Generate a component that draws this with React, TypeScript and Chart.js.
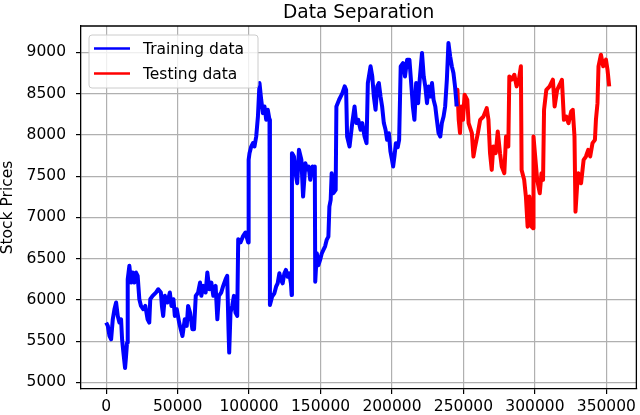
import React, { useEffect, useRef } from "react";
import { Chart, registerables } from "chart.js";

Chart.register(...registerables);

const TITLE = "Data Separation";
const Y_LABEL = "Stock Prices";
const legendLabels = ["Training data", "Testing data"];
const seriesColors = ["#0000ff", "#ff0000"];

const xTicks = [0, 50000, 100000, 150000, 200000, 250000, 300000, 350000];
const yTicks = [5000, 5500, 6000, 6500, 7000, 7500, 8000, 8500, 9000];

const trainX = [
  0, 1160, 2320, 3480, 4640, 5800, 6960, 8120, 9280, 10440,
  11140, 12070, 13230, 13930, 14620, 15090, 16250, 17400, 18570, 19730,
  20890, 22050, 23210, 24370, 26000, 27390, 29010, 30170, 30870, 32500,
  34820, 36440, 38300, 39000, 39900, 41100, 42900, 44560, 45700, 47100,
  48050, 49440, 51070, 52200, 53400, 55000, 56400, 57330, 58700, 60350,
  61500, 62700, 64300, 65700, 66600, 68000, 69600, 70800, 72200, 73600,
  75000, 76600, 77800, 78900, 80500, 81900, 83600, 84700, 85600, 86100,
  87000, 88200, 89400, 90500, 91700, 92400, 94000, 95900, 97500, 99400,
  99700, 100300, 101500, 102700, 103800, 105000, 106200, 107300, 108500, 109700,
  110800, 112000, 113100, 114300,
  114600, 116100, 117700, 118900, 120000, 121200, 122300, 123500, 124700, 125800,
  127000, 128100, 129300, 129800,
  130000, 131400, 132500, 133700, 134900, 136600, 137800, 138600, 139400, 140500,
  141700, 142800, 144400, 145800, 146000, 146300, 147400, 148500, 149700, 150800,
  152000, 153200, 154300, 155500, 156200, 157100, 157800, 159000, 160600,
  161100, 163000, 165300, 166900, 167900, 168600, 170300, 172200, 173800, 175000,
  176400, 178000, 179200, 180800, 182200, 183100, 185000, 186200, 187300, 188500,
  189700, 190800, 192000, 193100, 194300, 195500, 196600, 197800, 198900, 200000,
  200800, 201800, 202700, 204000, 205000, 206100, 207700, 209100, 210600, 212200,
  213600, 214600, 215700, 216900, 218300, 219400, 221000, 222200, 223300, 224500,
  225600, 226800, 228000, 229100, 230300, 231400, 232600, 233800, 234900, 236100,
  237200, 238400, 239500, 240700, 241900, 243000, 244100, 245300,
];
const trainY = [
  5725, 5685, 5563, 5523, 5765, 5887, 5968, 5806, 5725, 5765,
  5523, 5361, 5175, 5320, 5482, 6251, 6413, 6210, 6332, 6210,
  6332, 6291, 6008, 5927, 5887, 5927, 5765, 5725, 6008, 6049,
  6089, 6129, 6089, 5927, 5806, 6049, 5968, 6089, 5927, 6008,
  5806, 5887, 5725, 5644, 5563, 5765, 5685, 5927, 5846, 5644,
  5644, 6049, 6089, 6210, 6049, 6170, 6089, 6332, 6129, 6210,
  6049, 6170, 5765, 6049, 6089, 6170, 6251, 6291, 5644, 5361,
  5846, 5927, 6049, 5846, 5806, 6736, 6696, 6777, 6817, 6696,
  7698, 7779, 7859, 7900, 7860, 7981, 8223, 8628, 8425, 8264,
  8345, 8183, 8304, 8183,
  5938, 6039, 6080, 6160, 6201, 6323, 6242, 6201, 6323, 6363,
  6282, 6323, 6201, 6059,
  7779, 7738, 7536, 7414, 7819, 7698, 7252, 7450, 7657, 7580,
  7617, 7455, 7617, 7536, 7617, 6221, 6566, 6420, 6485, 6560,
  6606, 6650, 6727, 6767, 7131, 7212, 7536, 7293, 7333,
  8345, 8426, 8507, 8588, 8547, 7981, 7859, 8143, 8345, 8143,
  8183, 8062, 8143, 7981, 7900, 8628, 8831, 8709, 8466, 8304,
  8588, 8628, 8466, 8345, 8143, 8062, 7940, 8021, 7800, 7700,
  7617, 7750, 7900, 7850, 7940, 8831, 8871, 8709, 8912, 8912,
  8588, 8345, 8183, 8628, 8385, 8669, 8993, 8709, 8588, 8385,
  8588, 8466, 8628, 8426, 8345, 8183, 8021, 7981, 8143, 8223,
  8345, 8669, 9114, 8952, 8831, 8750, 8588, 8345,
];

const testX = [
  245300, 245800, 246700, 247600, 248500, 249700, 250800, 252700, 253600, 255900,
  257000, 258200, 260100, 261700, 264000, 266300, 267500, 268600, 269800, 270900,
  272600, 274000, 275600, 276800, 278600, 279800, 281400, 282100, 283700, 285600,
  287200, 288800, 290200, 290700, 292500, 293700, 294900, 296100, 297600, 298800,
  299000, 300400, 301600, 303400, 304600, 305700, 306400, 308000, 310300, 312600,
  313800, 315600, 317300, 318900, 320300, 321900, 323500, 325400, 326500, 327700,
  328400, 329500, 330400, 332300, 334100, 335700, 337300, 338700, 340300, 342000,
  342700, 343800, 344500, 346200, 347800, 349700, 350800, 352000,
];
const testY = [
  8345, 8547, 8183, 8022, 8345, 8183, 8487, 8425, 8142, 8021,
  7738, 7859, 8021, 8183, 8223, 8324, 8183, 7779, 7576, 7859,
  7779, 8041, 7779, 7617, 7536, 7981, 7859, 8709, 8669, 8729,
  8588, 8669, 8831, 7576, 7455, 7252, 6888, 7252, 6888, 6868,
  7981, 7698, 7455, 7293, 7536, 7455, 8304, 8547, 8588, 8669,
  8345, 8547, 8608, 8669, 8183, 8223, 8142, 8284, 8304, 7981,
  7070, 7374, 7536, 7414, 7698, 7738, 7819, 7738, 7900, 7940,
  8183, 8385, 8831, 8972, 8831, 8912, 8790, 8588,
];

const FONT = "'DejaVu Sans', sans-serif";

const framePlugin = {
  id: "frameLegendTitle",
  afterDraw(chart: any) {
    const { ctx, chartArea: a } = chart;
    ctx.save();
    ctx.strokeStyle = "#000";
    ctx.lineWidth = 1.3;
    ctx.beginPath();
    ctx.moveTo(a.left, a.top);
    ctx.lineTo(a.right, a.top);
    ctx.lineTo(a.right, a.bottom);
    ctx.stroke();

    ctx.fillStyle = "#000";
    ctx.font = `18.6px ${FONT}`;
    ctx.textAlign = "center";
    ctx.textBaseline = "alphabetic";
    ctx.fillText(TITLE, (a.left + a.right) / 2, a.top - 7.7);

    const bx = a.left + 8;
    const by = a.top + 9;
    const bw = 169;
    const bh = 53;
    ctx.beginPath();
    ctx.roundRect(bx, by, bw, bh, 3);
    ctx.fillStyle = "rgba(255,255,255,0.8)";
    ctx.fill();
    ctx.strokeStyle = "#cccccc";
    ctx.lineWidth = 1;
    ctx.stroke();
    legendLabels.forEach((lab, i) => {
      const y = by + 13.5 + i * 25;
      ctx.strokeStyle = seriesColors[i];
      ctx.lineWidth = 2.3;
      ctx.beginPath();
      ctx.moveTo(bx + 5, y);
      ctx.lineTo(bx + 41, y);
      ctx.stroke();
      ctx.fillStyle = "#000";
      ctx.font = `15.5px ${FONT}`;
      ctx.textAlign = "left";
      ctx.textBaseline = "middle";
      ctx.fillText(lab, bx + 54, y + 1);
    });
    ctx.restore();
  },
};

export default function App() {
  const ref = useRef<HTMLCanvasElement | null>(null);
  useEffect(() => {
    if (!ref.current) return;
    const chart = new Chart(ref.current, {
      type: "line",
      data: {
        datasets: [
          {
            label: legendLabels[0],
            data: trainX.map((x, i) => ({ x, y: trainY[i] })),
            borderColor: seriesColors[0],
            backgroundColor: seriesColors[0],
            borderWidth: 4,
            pointRadius: 0,
            tension: 0,
            borderJoinStyle: "round",
          },
          {
            label: legendLabels[1],
            data: testX.map((x, i) => ({ x, y: testY[i] })),
            borderColor: seriesColors[1],
            backgroundColor: seriesColors[1],
            borderWidth: 4,
            pointRadius: 0,
            tension: 0,
            borderJoinStyle: "round",
          },
        ],
      },
      options: {
        responsive: false,
        animation: false,
        devicePixelRatio: 1,
        layout: { padding: { top: 26, right: 1, left: 0, bottom: 0 } },
        plugins: {
          legend: { display: false },
          title: { display: false },
          tooltip: { enabled: false },
        },
        scales: {
          x: {
            type: "linear",
            min: -17600,
            max: 371000,
            afterBuildTicks: (s: any) => {
              s.ticks = xTicks.map((v) => ({ value: v }));
            },
            afterFit: (s: any) => {
              s.height = 26;
            },
            grid: { color: "#b0b0b0", lineWidth: 1.2, tickColor: "#000", tickLength: 5, tickWidth: 1.2 },
            border: { color: "#000", width: 1.3 },
            ticks: {
              color: "#000",
              font: { family: FONT, size: 15.5 },
              padding: 4,
              maxRotation: 0,
              autoSkip: false,
              callback: (v: any) => String(v),
            },
          },
          y: {
            type: "linear",
            min: 4920,
            max: 9320,
            afterBuildTicks: (s: any) => {
              s.ticks = yTicks.map((v) => ({ value: v }));
            },
            afterFit: (s: any) => {
              s.width = 81;
            },
            grid: { color: "#b0b0b0", lineWidth: 1.2, tickColor: "#000", tickLength: 5, tickWidth: 1.2 },
            border: { color: "#000", width: 1.3 },
            ticks: {
              color: "#000",
              font: { family: FONT, size: 15.5 },
              padding: 10,
              autoSkip: false,
              callback: (v: any) => String(v),
            },
            title: {
              display: true,
              text: Y_LABEL,
              color: "#000",
              font: { family: FONT, size: 15.5, lineHeight: 1 },
              padding: { top: 0, bottom: 0 },
            },
          },
        },
      },
      plugins: [framePlugin],
    } as any);
    return () => chart.destroy();
  }, []);
  return (
    <div style={{ position: "fixed", left: 0, top: 0, width: 640, height: 415 }}>
      <canvas ref={ref} width={640} height={415} style={{ width: 640, height: 415 }} />
    </div>
  );
}
